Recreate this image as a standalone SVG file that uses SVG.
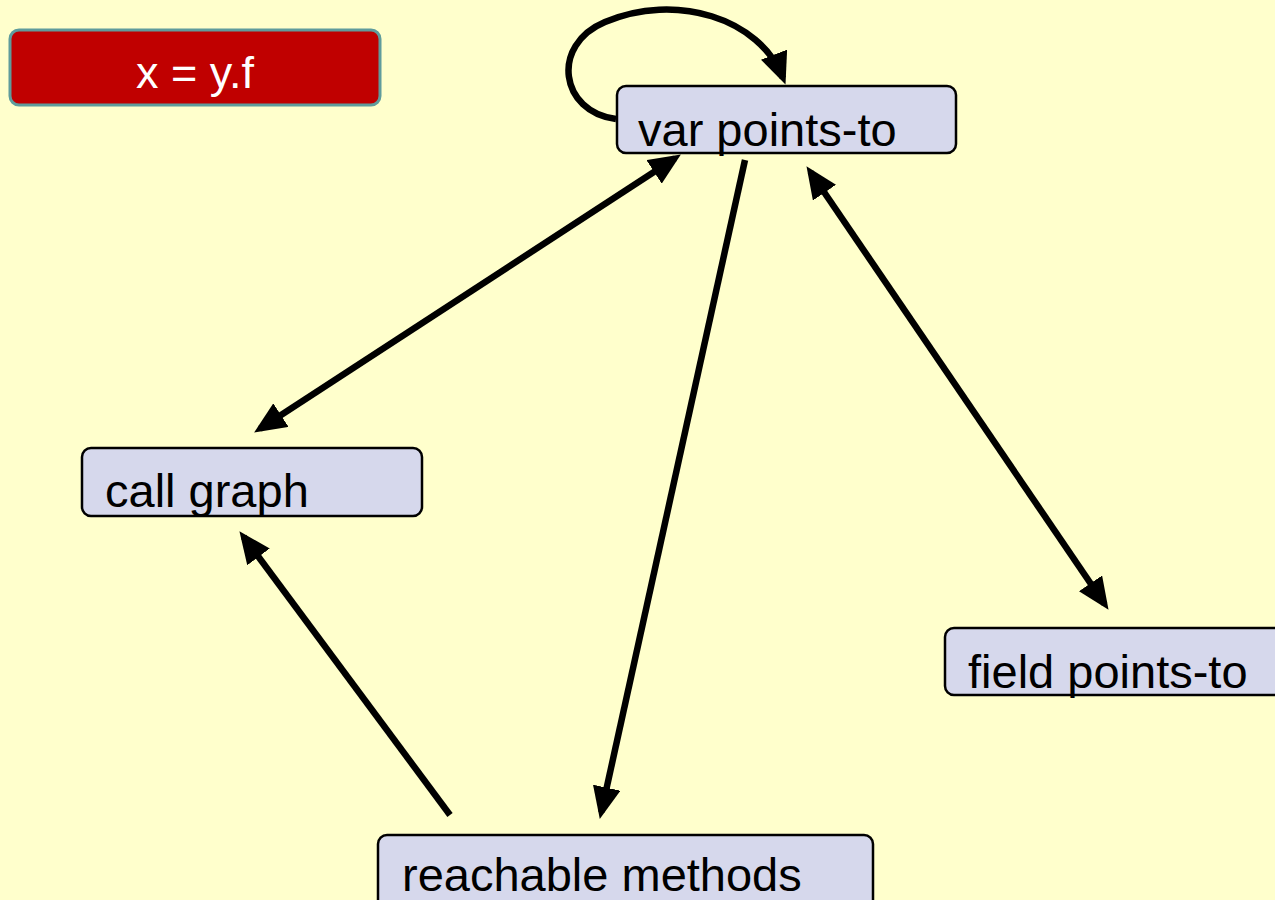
<svg xmlns="http://www.w3.org/2000/svg" width="1275" height="900" viewBox="0 0 1275 900">
<defs>
<style>
.node rect{fill:#d6d8ec;stroke:#000;stroke-width:2.5}
.node text{font-family:"Liberation Sans",Arial,sans-serif;font-size:47px;fill:#000}
.edge{fill:none;stroke:#000;stroke-width:6.5}
</style>
<marker id="ah" viewBox="0 0 32 28" refX="25" refY="14" markerWidth="32" markerHeight="28" markerUnits="userSpaceOnUse" orient="auto-start-reverse">
<path d="M0,0 L32,14 L0,28 z" fill="#000"/>
</marker>
</defs>
<rect x="0" y="0" width="1275" height="900" fill="#ffffcc"/>
<g id="title">
<rect x="10" y="30" width="370" height="75" rx="9" fill="#c00000" stroke="#5f9c9c" stroke-width="3"/>
<text x="195" y="88" text-anchor="middle" font-family="Liberation Sans,Arial,sans-serif" font-size="45" fill="#fff">x = y.f</text>
</g>
<g id="connectors">
<path class="edge" d="M616,119 C560,112 550,45 605,22 C675,-8 760,18 783,78" marker-end="url(#ah)"/>
<line class="edge" x1="675" y1="158.3" x2="260" y2="428.7" marker-start="url(#ah)" marker-end="url(#ah)"/>
<line class="edge" x1="745" y1="160" x2="601.3" y2="812.1" marker-end="url(#ah)"/>
<line class="edge" x1="810.4" y1="172" x2="1104.6" y2="604" marker-start="url(#ah)" marker-end="url(#ah)"/>
<line class="edge" x1="450" y1="815" x2="243.6" y2="536.8" marker-end="url(#ah)"/>
</g>
<g id="var-points-to" class="node">
<rect x="617" y="86" width="339" height="67" rx="9"/>
<text x="638" y="146">var points-to</text>
</g>
<g id="call-graph" class="node">
<rect x="82" y="448" width="340" height="68" rx="9"/>
<text x="105" y="507">call graph</text>
</g>
<g id="field-points-to" class="node">
<rect x="945" y="628" width="345" height="67" rx="9"/>
<text x="968" y="688">field points-to</text>
</g>
<g id="reachable-methods" class="node">
<rect x="378" y="835" width="495" height="90" rx="9"/>
<text x="402" y="891">reachable methods</text>
</g>
</svg>
